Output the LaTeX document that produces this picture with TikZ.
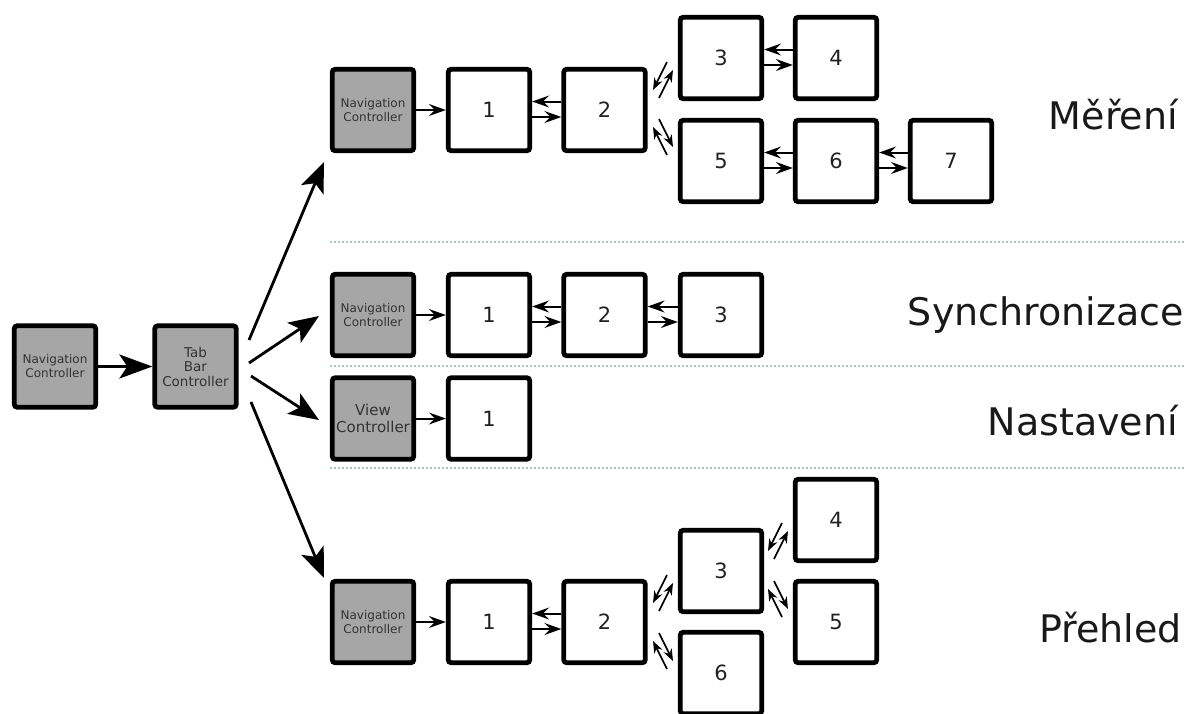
\documentclass[tikz,border=0pt]{standalone}
\usepackage{fontspec}
\setmainfont{DejaVu Sans}
\usetikzlibrary{arrows.meta,calc}
\definecolor{boxgray}{HTML}{A6A6A6}
\definecolor{txtgray}{HTML}{333333}
\definecolor{dotc}{HTML}{A8C4BE}
\newcommand\uppair[1]{%
  \draw[da] ($(#1)+(4,-18)$) -- ($(#1)+(-10,10)$);
  \draw[da] ($(#1)+(-4,18)$) -- ($(#1)+(10,-10)$);}
\newcommand\downpair[1]{%
  \draw[da] ($(#1)+(-4,-18)$) -- ($(#1)+(10,10)$);
  \draw[da] ($(#1)+(4,18)$) -- ($(#1)+(-10,-10)$);}
\newcommand\hpair[2]{%
  \draw[sa] ([yshift=8.5pt]#2.west) -- ([yshift=8.5pt]#1.east);
  \draw[sa] ([yshift=-7pt]#1.east) -- ([yshift=-7pt]#2.west);}
\begin{document}
\begin{tikzpicture}[x=1pt,y=-1pt,
  vc/.style={draw=black, line width=4.8pt, rounded corners=3pt,
    minimum width=81.5pt, minimum height=81.5pt, inner sep=0pt,
    fill=white, text=black!87, font=\fontsize{21}{24}\selectfont},
  gc/.style={vc, fill=boxgray, text=txtgray, align=center,
    font=\fontsize{12}{14}\selectfont},
  bigarr/.style={line width=2.8pt, -{Stealth[length=30pt,width=24pt,inset=7pt]}},
  sa/.style={line width=2pt, -{Stealth[length=17pt,width=12pt,inset=6pt]}},
  da/.style={line width=1.6pt, -{Stealth[length=12pt,width=9pt,inset=4pt]}},
  dotl/.style={draw=dotc, line width=1.6pt, dash pattern=on 1.6pt off 2.4pt},
  lab/.style={anchor=base east, font=\fontsize{38}{44}\selectfont, text=black!90, inner sep=0pt}
]
\useasboundingbox (0,0) rectangle (1186,713);
\clip (0,0) rectangle (1186,713);

% separators
\coordinate (s1a) at (330,242); \coordinate (s1b) at (1186,242);
\coordinate (s2a) at (330,366); \coordinate (s2b) at (1186,366);
\coordinate (s3a) at (330,468); \coordinate (s3b) at (1186,468);
\draw[dotl] (s1a) -- (s1b);
\draw[dotl] (s2a) -- (s2b);
\draw[dotl] (s3a) -- (s3b);

% left
\node[gc] (nav0) at (55,366.5) {Navigation\\Controller};
\node[gc, font=\fontsize{13.5}{14.5}\selectfont] (tab) at (195.5,366.5) {Tab\\Bar\\Controller};
\draw[bigarr, -{Stealth[length=33pt,width=24pt,inset=8pt]}] (nav0.east) -- (tab.west);

% Mereni
\node[gc] (mn) at (373,110) {Navigation\\Controller};
\node[vc] (m1) at (489,110) {1};
\node[vc] (m2) at (604.5,110) {2};
\node[vc] (m3) at (721,58) {3};
\node[vc] (m4) at (836,58) {4};
\node[vc] (m5) at (721,161) {5};
\node[vc] (m6) at (836,161) {6};
\node[vc] (m7) at (951,161) {7};
\draw[sa] (mn.east) -- (m1.west);
\hpair{m1}{m2}
\hpair{m3}{m4}
\hpair{m5}{m6}
\hpair{m6}{m7}
\coordinate (mp3) at (663,80);
\coordinate (mp5) at (663,137);
\uppair{mp3}
\downpair{mp5}
\node[lab] (lm) at (1178,129) {Měření};

% Synchronizace
\node[gc] (sn) at (373,315) {Navigation\\Controller};
\node[vc] (s1) at (489,315) {1};
\node[vc] (s2) at (604.5,315) {2};
\node[vc] (s3) at (721,315) {3};
\draw[sa] (sn.east) -- (s1.west);
\hpair{s1}{s2}
\hpair{s2}{s3}
\node[lab] (ls) at (1184,325) {Synchronizace};

% Nastaveni
\node[gc, font=\fontsize{15}{17}\selectfont] (nv) at (373,418.5) {View\\Controller};
\node[vc] (n1) at (489,418.5) {1};
\draw[sa] (nv.east) -- (n1.west);
\node[lab] (ln) at (1178,435) {Nastavení};

% Prehled
\node[gc] (pn) at (373,622) {Navigation\\Controller};
\node[vc] (p1) at (489,622) {1};
\node[vc] (p2) at (604.5,622) {2};
\node[vc] (p3) at (721,571) {3};
\node[vc] (p4) at (836,520) {4};
\node[vc] (p5) at (836,622) {5};
\node[vc] (p6) at (721,673) {6};
\draw[sa] (pn.east) -- (p1.west);
\hpair{p1}{p2}
\coordinate (pp3) at (663,593);
\coordinate (pp6) at (663,651);
\coordinate (pp4) at (778,541);
\coordinate (pp5) at (778,599);
\uppair{pp3}
\downpair{pp6}
\uppair{pp4}
\downpair{pp5}
\node[lab] (lp) at (1182,642) {Přehled};

% tab bar arrows
\coordinate (t1) at (249,340); \coordinate (e1) at (324,162);
\coordinate (t2) at (249,363); \coordinate (e2) at (319,316);
\coordinate (t3) at (251,376); \coordinate (e3) at (319,420);
\coordinate (t4) at (251,402); \coordinate (e4) at (324,578);
\draw[bigarr] (t1) -- (e1);
\draw[bigarr] (t2) -- (e2);
\draw[bigarr] (t3) -- (e3);
\draw[bigarr] (t4) -- (e4);
\end{tikzpicture}
\end{document}
